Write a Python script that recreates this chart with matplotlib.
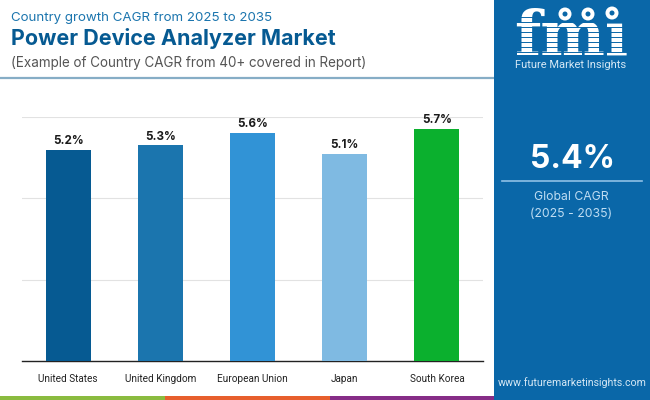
import matplotlib
matplotlib.use("Agg")
import matplotlib.pyplot as plt
from matplotlib.patches import Rectangle, Circle

# Data
COUNTRIES = ["United States", "United Kingdom", "European Union", "Japan", "South Korea"]
CAGR = [5.2, 5.3, 5.6, 5.1, 5.7]
BAR_COLORS = ["#065A92", "#1B75AE", "#3193D6", "#7FBAE2", "#0BB02E"]
Y_TICKS = [0, 2, 4, 6]

PANEL = "#0A67A8"
W, H = 650, 400

plt.rcParams["font.family"] = ["Inter", "DejaVu Sans"]
fig = plt.figure(figsize=(W / 100, H / 100), dpi=100, facecolor="white")

# Overlay in pixel coordinates for panel, strips and texts
bg = fig.add_axes([0, 0, 1, 1])
bg.set_xlim(0, W)
bg.set_ylim(H, 0)
bg.axis("off")

bg.add_patch(Rectangle((494, 0), 156, 400, color=PANEL, lw=0))
bg.add_patch(Rectangle((0, 396), 165, 4, color="#8ABB3F", lw=0))
bg.add_patch(Rectangle((165, 396), 165, 4, color="#E75F2D", lw=0))
bg.add_patch(Rectangle((330, 396), 164, 4, color="#862D87", lw=0))
bg.plot([0, 494], [78, 78], color="#86ADC6", lw=1.6, solid_capstyle="butt")

bg.text(11, 17.5, "Country growth CAGR from 2025 to 2035", fontsize=9.6, color="#1B75AE", va="center")
bg.text(11, 38.5, "Power Device Analyzer Market", fontsize=15.5, fontweight="bold", color="#065A92", va="center")
bg.text(11, 63, "(Example of Country CAGR from 40+ covered in Report)", fontsize=9.7, color="#555555", va="center")

# Logo
bg.text(571, 38, "fmi", family="DejaVu Serif", fontweight="bold", fontsize=44, color="white",
        ha="center", va="center")
for y in range(17, 58, 5):
    bg.plot([515, 630], [y, y], color=PANEL, lw=0.7, zorder=4)
bg.add_patch(Rectangle((556, 0), 70, 23, color=PANEL, lw=0, zorder=4))
for cx, cy in [(565, 14), (588, 14), (612, 13)]:
    bg.add_patch(Circle((cx, cy), 6.5, color="white", lw=0, zorder=5))
    bg.add_patch(Circle((cx, cy), 2.5, color=PANEL, lw=0, zorder=6))
bg.text(571, 64.5, "Future Market Insights", fontsize=8.0, color="#D5E8F5", ha="center", va="center", zorder=5,
        family="Roboto")

# Global figure
bg.text(572, 159, "5.4%", fontsize=23, fontweight="bold", color="white", ha="center", va="center")
bg.plot([502, 642], [181, 181], color="#8FC1E6", lw=1.2)
bg.text(571, 197, "Global CAGR", fontsize=8.8, color="#BFDDF3", ha="center", va="center")
bg.text(571, 214, "(2025 - 2035)", fontsize=8.8, color="#BFDDF3", ha="center", va="center")
bg.text(572, 383, "www.futuremarketinsights.com", fontsize=7.7, color="#D5E8F5", ha="center", va="center",
        family="Roboto")

# Bars
ax = fig.add_axes([22 / W, 1 - 361 / H, (483 - 22) / W, (361 - 117) / H])
ax.patch.set_alpha(0)
x = range(len(COUNTRIES))
ax.bar(x, CAGR, width=0.49, color=BAR_COLORS, zorder=3)
for i, v in zip(x, CAGR):
    ax.text(i, v + 0.07, f"{v}%", ha="center", va="bottom", fontsize=8.4, fontweight="bold", color="#1a1a1a")

ax.set_xlim(-0.5, 4.5)
ax.set_ylim(0, 6)
ax.set_yticks(Y_TICKS)
ax.set_yticklabels([])
ax.set_xticks(list(x))
ax.set_xticklabels(COUNTRIES, fontsize=7.2, color="#222222", family="Roboto")
ax.tick_params(axis="both", length=0)
ax.tick_params(axis="x", pad=9)
ax.grid(axis="y", color="#E2E2E2", lw=0.8, zorder=0)
for side in ["top", "right", "left"]:
    ax.spines[side].set_visible(False)
ax.spines["bottom"].set_color("#222222")
ax.spines["bottom"].set_linewidth(1)

plt.savefig("out.png", dpi=100)
